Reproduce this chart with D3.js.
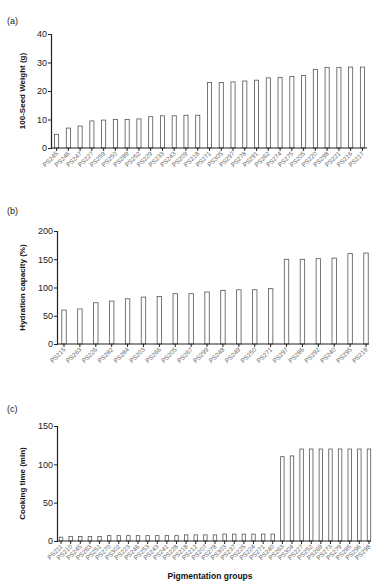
<!DOCTYPE html>
<html>
<head>
<meta charset="utf-8">
<script src="https://cdn.jsdelivr.net/npm/d3@7"></script>
<style>
  body { margin: 0; background: #fff; }
  svg { display: block; font-family: "Liberation Sans", Arial, sans-serif; }
</style>
</head>
<body>
<div id="chart"></div>
<script>
// panel (a) 100-seed weight
const seedLabels = ["PS245","PS246","PS247","PS227","PS259","PS250","PS289","PS252","PS229","PS233","PS243","PS209","PS218","PS271","PS305","PS297","PS278","PS291","PS262","PS274","PS275","PS205","PS220","PS298","PS221","PS216","PS217"];
const seedValues = [4.8,7,7.7,9.5,9.8,10,10,10.2,11,11.3,11.3,11.5,11.5,23,23,23.2,23.5,23.8,24.6,24.8,25.1,25.4,27.6,28.3,28.3,28.4,28.4];
const seedTicks = [0,10,20,30,40];

// panel (b) hydration capacity
const hydLabels = ["PS215","PS263","PS226","PS282","PS284","PS203","PS266","PS205","PS267","PS299","PS248","PS249","PS250","PS271","PS297","PS286","PS292","PS240","PS295","PS219"];
const hydValues = [60,62,73,76,80,83,84,89,89,92,95,96,96,98,150,150,151,152,160,161];
const hydTicks = [0,50,100,150,200];

// panel (c) cooking time
const cookLabels = ["PS211","PS210","PS245","PS283","PS251","PS270","PS302","PS223","PS246","PS253","PS243","PS241","PS228","PS218","PS212","PS207","PS278","PS303","PS237","PS225","PS224","PS271","PS240","PS263","PS304","PS227","PS252","PS269","PS273","PS279","PS285","PS296","PS298"];
const cookValues = [5,6,6,6,6,7,7,7,7,7,7,7,7,8,8,8,8,9,9,9,9,9,9,110,111,120,120,120,120,120,120,120,120];
const cookTicks = [0,50,100,150];

const width = 376, height = 583;

const svg = d3.select("#chart").append("svg")
  .attr("width", width)
  .attr("height", height);

function drawPanel(o) {
  const x = d3.scaleBand()
    .domain(o.labels)
    .range([o.left, o.right])
    .paddingInner(o.pi)
    .paddingOuter(o.po);

  const y = d3.scaleLinear()
    .domain([0, o.max])
    .range([o.bottom, o.top]);

  const g = svg.append("g");

  g.append("text")
    .attr("x", 7)
    .attr("y", o.tagY)
    .attr("font-size", 9)
    .attr("fill", "#222")
    .text(o.tag);

  g.selectAll("rect.bar")
    .data(o.values)
    .join("rect")
    .attr("class", "bar")
    .attr("x", (d, i) => x(o.labels[i]))
    .attr("width", x.bandwidth())
    .attr("y", d => y(d))
    .attr("height", d => o.bottom - y(d))
    .attr("fill", "#fff")
    .attr("stroke", "#555")
    .attr("stroke-width", 0.8);

  const yAxis = g.append("g")
    .attr("transform", `translate(${o.left},0)`)
    .call(d3.axisLeft(y).tickValues(o.ticks).tickSize(3).tickPadding(1));
  yAxis.selectAll("text").attr("font-size", 9).attr("fill", "#222");
  yAxis.select(".domain").attr("stroke", "#222").attr("stroke-width", 1.2);
  yAxis.selectAll(".tick line").attr("stroke", "#222").attr("stroke-width", 1);

  const xAxis = g.append("g")
    .attr("transform", `translate(0,${o.bottom})`)
    .call(d3.axisBottom(x).tickSize(3).tickSizeOuter(0));
  xAxis.select(".domain").attr("stroke", "#222").attr("stroke-width", 1.2)
    .attr("d", `M${o.left},0H${o.axisEnd}`);
  xAxis.selectAll(".tick line").attr("stroke", "#222");
  xAxis.selectAll("text")
    .attr("font-size", 6.3)
    .attr("fill", "#666")
    .attr("text-anchor", "end")
    .attr("dy", null)
    .attr("y", 0)
    .attr("transform", "translate(2,6) rotate(-45)");

  g.append("text")
    .attr("transform", `translate(25,${(o.top + o.bottom) / 2}) rotate(-90)`)
    .attr("text-anchor", "middle")
    .attr("font-size", 8)
    .attr("font-weight", "bold")
    .attr("fill", "#111")
    .text(o.title);
}

drawPanel({ tag: "(a)", tagY: 24, labels: seedLabels, values: seedValues, ticks: seedTicks, max: 40,
  title: "100-Seed Weight (g)", left: 51, right: 368, axisEnd: 367, top: 34, bottom: 148, pi: 0.65, po: 0.3 });

drawPanel({ tag: "(b)", tagY: 214, labels: hydLabels, values: hydValues, ticks: hydTicks, max: 200,
  title: "Hydration capacity (%)", left: 57, right: 373, axisEnd: 369, top: 231, bottom: 344, pi: 0.72, po: 0.3 });

drawPanel({ tag: "(c)", tagY: 412, labels: cookLabels, values: cookValues, ticks: cookTicks, max: 150,
  title: "Cooking time (min)", left: 57, right: 373, axisEnd: 371, top: 426, bottom: 541, pi: 0.64, po: 0.24 });

svg.append("text")
  .attr("x", 210)
  .attr("y", 579)
  .attr("text-anchor", "middle")
  .attr("font-size", 8.5)
  .attr("font-weight", "bold")
  .attr("fill", "#111")
  .text("Pigmentation groups");
</script>
</body>
</html>
